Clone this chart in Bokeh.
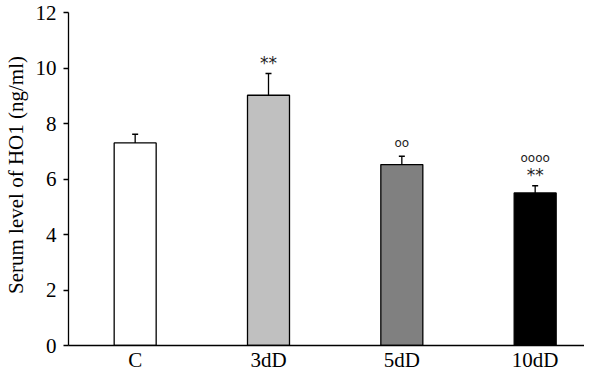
from bokeh.plotting import figure
from bokeh.models import Range1d, FixedTicker, ColumnDataSource, Whisker, TeeHead
from bokeh.core.properties import value
from bokeh.embed import file_html
from bokeh.resources import INLINE

categories = ["C", "3dD", "5dD", "10dD"]
means = [7.3, 9.02, 6.52, 5.5]
errors = [0.31, 0.78, 0.3, 0.26]
bar_colors = ["#ffffff", "#c0c0c0", "#808080", "#000000"]
stars = ["", "**", "", "**"]
circles = ["", "", "oo", "oooo"]
y_ticks = [0, 2, 4, 6, 8, 10, 12]

xs = [i + 0.5 for i in range(len(categories))]
tops = [m + e for m, e in zip(means, errors)]
circ_off = [-28 if s else -13 for s in stars]

src = ColumnDataSource(dict(x=xs, top=means, upper=tops, color=bar_colors,
                            stars=stars, circles=circles, circ_off=circ_off))

p = figure(width=584, height=374, output_backend="svg", toolbar_location=None,
           x_range=Range1d(0, 3.87), y_range=Range1d(0, 12.29),
           min_border_left=68, min_border_right=0, min_border_top=4, min_border_bottom=27)
p.background_fill_color = "white"
p.border_fill_color = "white"
p.outline_line_color = None
p.grid.visible = False

p.vbar(x="x", top="top", bottom=0, width=0.315, source=src,
       fill_color="color", line_color="black", line_width=1.3)

w = Whisker(source=src, base="x", lower="top", upper="upper", dimension="height",
            line_color="black", line_width=1.3,
            upper_head=TeeHead(size=6, line_color="black", line_width=1.5),
            lower_head=None)
p.add_layout(w)

p.text(x="x", y="upper", text="stars", source=src, y_offset=-11,
       text_align="center", text_baseline="middle",
       text_font=value("DejaVu Sans"), text_font_size="17px", text_color="#222222")
p.text(x="x", y="upper", text="circles", source=src, y_offset="circ_off",
       text_align="center", text_baseline="middle",
       text_font=value("DejaVu Sans"), text_font_size="12px", text_color="#222222")

p.yaxis.ticker = FixedTicker(ticks=y_ticks)
p.yaxis.bounds = (0, 12)
p.yaxis.axis_label = "Serum level of HO1 (ng/ml)"
p.xaxis.ticker = FixedTicker(ticks=xs)
p.xaxis.major_label_overrides = {x: c for x, c in zip(xs, categories)}

for ax in (p.xaxis, p.yaxis):
    ax.axis_line_color = "black"
    ax.axis_line_width = 1.3
    ax.minor_tick_line_color = None
    ax.major_label_text_font = "Liberation Serif"
    ax.major_label_text_font_size = "21px"
    ax.major_label_text_color = "black"
    ax.axis_label_text_font = "Liberation Serif"
    ax.axis_label_text_font_size = "21px"
    ax.axis_label_text_font_style = "normal"
    ax.axis_label_text_color = "black"

p.xaxis.major_tick_line_color = None
p.xaxis.major_tick_out = 0
p.xaxis.major_label_standoff = 2
p.yaxis.major_tick_out = 5
p.yaxis.major_tick_in = 0
p.yaxis.major_tick_line_width = 1.3
p.yaxis.major_label_standoff = 7
p.yaxis.axis_label_standoff = 5

open("out.html", "w").write(file_html(p, INLINE))
